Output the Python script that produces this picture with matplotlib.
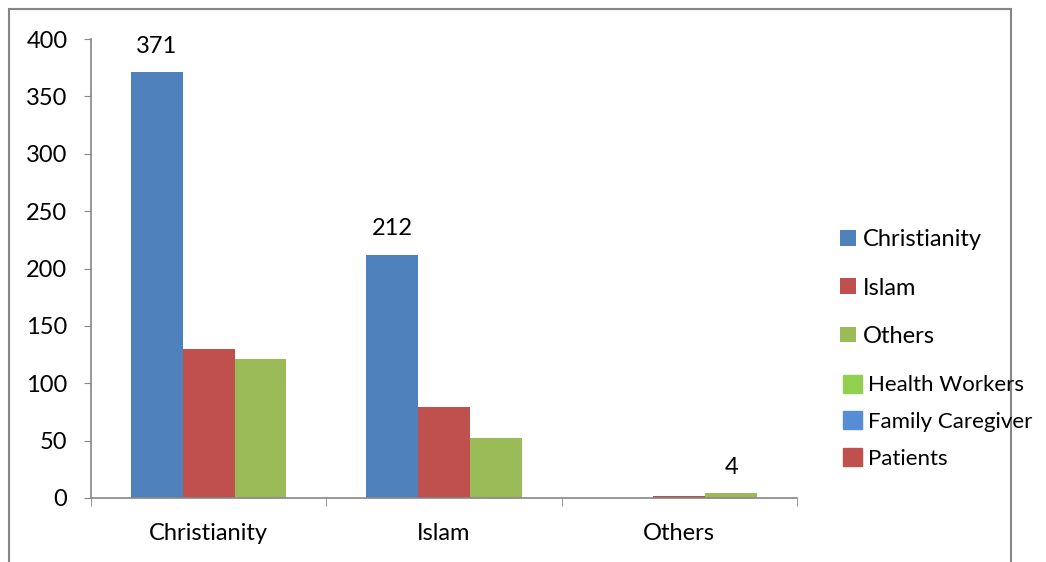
import matplotlib.pyplot as plt
import numpy as np
from matplotlib.patches import Patch, Rectangle

categories = ['Christianity', 'Islam', 'Others']
series_names = ['Christianity', 'Islam', 'Others']
values = {
    'Christianity': [371, 212, 0],
    'Islam': [130, 79, 2],
    'Others': [121, 52, 4],
}
labelled = {('Christianity', 0): 371, ('Christianity', 1): 212, ('Others', 2): 4}
extra_names = ['Health Workers', 'Family Caregiver', 'Patients']

colors = ['#4F81BD', '#C0504D', '#9BBB59']
extra_colors = ['#92D050', '#558ED5', '#C0504D']
grey = '#868686'
fs = 17

plt.rcParams['font.family'] = ['Lato', 'DejaVu Sans']

fig = plt.figure(figsize=(10.46, 5.62), dpi=100)
ax = fig.add_axes([91 / 1046, 1 - 498 / 562, (797 - 91) / 1046, (498 - 39) / 562])

x = np.arange(len(categories))
w = 0.22
bars = []
for i, name in enumerate(series_names):
    b = ax.bar(x + (i - 1) * w, values[name], w, color=colors[i], label=name, zorder=2)
    bars.append(b)
    for j, v in enumerate(values[name]):
        if (name, j) in labelled:
            ax.annotate(str(labelled[(name, j)]), (x[j] + (i - 1) * w, v),
                        xytext=(0, 11), textcoords='offset points',
                        ha='center', va='bottom', fontsize=fs)

ax.set_xlim(-0.5, 2.5)
ax.set_ylim(0, 400)
ax.set_yticks(range(0, 401, 50))
ax.set_xticks(x)
ax.set_xticklabels(categories)
ax.set_xticks([-0.5, 0.5, 1.5, 2.5], minor=True)
ax.tick_params(axis='x', which='major', length=0, pad=18, labelsize=fs)
ax.tick_params(axis='x', which='minor', length=6, color=grey, direction='out')
ax.tick_params(axis='y', length=5, color=grey, direction='out', pad=12, labelsize=fs)
for s in ['top', 'right']:
    ax.spines[s].set_visible(False)
for s in ['left', 'bottom']:
    ax.spines[s].set_color(grey)
    ax.spines[s].set_linewidth(1.2)

leg1 = fig.legend(handles=bars, labels=series_names, loc='upper left',
                  bbox_to_anchor=(831 / 1046, 1 - 220 / 562), frameon=False,
                  fontsize=fs, handlelength=0.65, handleheight=0.65,
                  handletextpad=0.3, labelspacing=1.15, borderaxespad=0)
extra = [Patch(color=c) for c in extra_colors]
leg2 = fig.legend(handles=extra, labels=extra_names, loc='upper left',
                  bbox_to_anchor=(834 / 1046, 1 - 366 / 562), frameon=False,
                  fontsize=16, handlelength=0.85, handleheight=0.85,
                  handletextpad=0.3, labelspacing=0.72, borderaxespad=0)

frame = Rectangle((9 / 1046, -0.1), (1011 - 9) / 1046, 1.1 - 9 / 562,
                  transform=fig.transFigure, fill=False, edgecolor=grey,
                  linewidth=1.5, clip_on=False, zorder=5)
fig.add_artist(frame)

fig.savefig('out.png', dpi=100)
